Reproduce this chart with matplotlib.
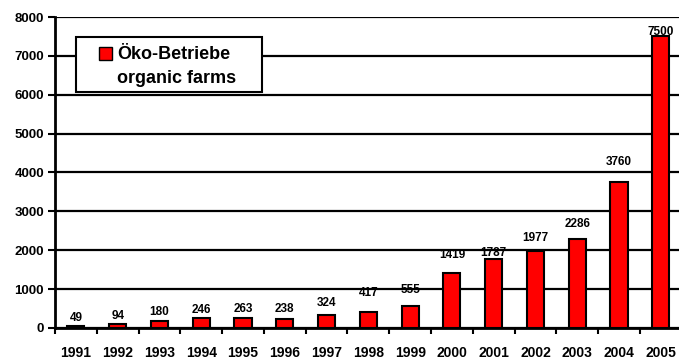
import matplotlib
matplotlib.use("Agg")
import matplotlib.pyplot as plt
from matplotlib.patches import Patch, Rectangle
from matplotlib.legend_handler import HandlerPatch

years = ["1991", "1992", "1993", "1994", "1995", "1996", "1997", "1998",
         "1999", "2000", "2001", "2002", "2003", "2004", "2005"]
farms = [49, 94, 180, 246, 263, 238, 324, 417, 555, 1419, 1787, 1977, 2286, 3760, 7500]
# vertical offset (points) of each value label above its bar, as in the original
label_offsets = [6, 6, 6.5, 6, 6.5, 7, 9, 13.5, 11.5, 13, 4, 9.5, 11, 14.5, 3.5]
legend_label = "Öko-Betriebe\norganic farms"
yticks = [0, 1000, 2000, 3000, 4000, 5000, 6000, 7000, 8000]

plt.rcParams['font.family'] = ['Liberation Sans', 'DejaVu Sans']

fig = plt.figure(figsize=(6.79, 3.62), dpi=100)
ax = fig.add_axes([0.081, 0.094, 0.923, 0.859])

x = list(range(len(years)))
ax.bar(x, farms, width=0.41, color="#ff0000", edgecolor="black", linewidth=1.5, zorder=3)

for xi, v, off in zip(x, farms, label_offsets):
    ax.annotate(str(v), (xi, v), xytext=(0, off), textcoords="offset points",
                ha="center", va="center", fontsize=8.5, fontweight="bold", zorder=4)

ax.set_xlim(-0.5, len(years) - 0.5)
ax.set_ylim(0, 8000)
ax.set_yticks(yticks)
ax.set_yticklabels([str(t) for t in yticks], fontsize=9.5, fontweight="bold")
ax.set_xticks([i + 0.5 for i in range(-1, len(years))], minor=False)
ax.set_xticklabels([""] * (len(years) + 1))
ax.set_xticks(x, minor=True)
ax.set_xticklabels(years, minor=True, fontsize=10, fontweight="bold")
ax.tick_params(axis="x", which="minor", length=0, pad=13)
ax.tick_params(axis="x", which="major", length=4, width=1.5, direction="out")
ax.tick_params(axis="y", length=5, width=1.5, direction="out", pad=3)

ax.yaxis.grid(True, color="black", linewidth=1.6, zorder=0)
ax.set_axisbelow(True)
for s in ["top", "right"]:
    ax.spines[s].set_visible(False)
ax.spines["left"].set_linewidth(2)
ax.spines["bottom"].set_linewidth(2)


def top_square(legend, orig_handle, xdescent, ydescent, width, height, fontsize):
    s = 0.72 * fontsize
    return Rectangle((-xdescent, -ydescent + height - s + 0.72 * fontsize), s, s)


# legend frame
frame = Rectangle((0.0335, 0.759), 0.297, 0.177, transform=ax.transAxes,
                  facecolor="white", edgecolor="black", linewidth=1.5, zorder=5)
ax.add_patch(frame)

handle = Patch(facecolor="#ff0000", edgecolor="black", linewidth=1)
leg = ax.legend([handle], [legend_label], loc="upper left",
                bbox_to_anchor=(0.0702, 0.906), frameon=False,
                prop={"weight": "bold", "size": 13}, handlelength=0.72,
                handleheight=0.72, handletextpad=0.3, borderpad=0,
                borderaxespad=0,
                handler_map={Patch: HandlerPatch(patch_func=top_square)})
for t in leg.get_texts():
    t.set_linespacing(1.5)
leg.set_zorder(6)

fig.savefig("out.png", dpi=100)
